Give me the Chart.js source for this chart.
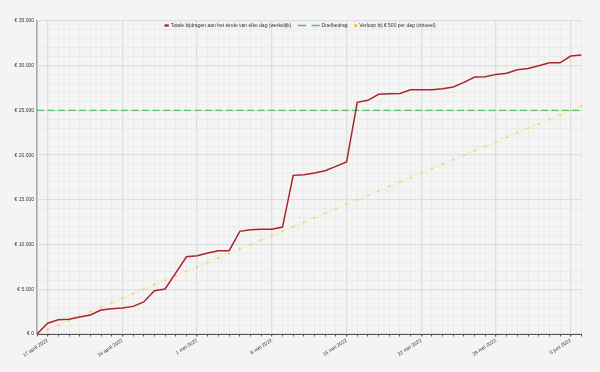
<!DOCTYPE html>
<html>
<head>
<meta charset="utf-8">
<script src="https://cdn.jsdelivr.net/npm/chart.js@4.4.1/dist/chart.umd.min.js"></script>
<style>
  html, body { margin: 0; padding: 0; background: #f4f4f4; }
  canvas { display: block; }
</style>
</head>
<body>
<canvas id="bijdragen_chart" width="600" height="372"></canvas>
<script>
// one category per day, 16 april .. 6 juni 2022
const days = [
  "16 april 2022", "17 april 2022", "18 april 2022", "19 april 2022", "20 april 2022",
  "21 april 2022", "22 april 2022", "23 april 2022", "24 april 2022", "25 april 2022",
  "26 april 2022", "27 april 2022", "28 april 2022", "29 april 2022", "30 april 2022",
  "1 mei 2022", "2 mei 2022", "3 mei 2022", "4 mei 2022", "5 mei 2022", "6 mei 2022",
  "7 mei 2022", "8 mei 2022", "9 mei 2022", "10 mei 2022", "11 mei 2022", "12 mei 2022",
  "13 mei 2022", "14 mei 2022", "15 mei 2022", "16 mei 2022", "17 mei 2022", "18 mei 2022",
  "19 mei 2022", "20 mei 2022", "21 mei 2022", "22 mei 2022", "23 mei 2022", "24 mei 2022",
  "25 mei 2022", "26 mei 2022", "27 mei 2022", "28 mei 2022", "29 mei 2022", "30 mei 2022",
  "31 mei 2022", "1 juni 2022", "2 juni 2022", "3 juni 2022", "4 juni 2022", "5 juni 2022",
  "6 juni 2022"
];

const actual = [
  0, 1200, 1600, 1650, 1900, 2120, 2680, 2830, 2900, 3090,
  3580, 4840, 5030, 6840, 8640, 8750, 9060, 9320, 9320, 11480,
  11660, 11700, 11720, 11960, 17740, 17810, 18000, 18260, 18750, 19230,
  25900, 26130, 26800, 26870, 26900, 27320, 27320, 27320, 27430, 27620,
  28140, 28740, 28770, 29030, 29150, 29550, 29700, 30000, 30330, 30330,
  31080, 31190
];

const virtual = [
  0, 500, 1000, 1500, 2000, 2500, 3000, 3500, 4000, 4500,
  5000, 5500, 6000, 6500, 7000, 7500, 8000, 8500, 9000, 9500,
  10000, 10500, 11000, 11500, 12000, 12500, 13000, 13500, 14000, 14500,
  15000, 15500, 16000, 16500, 17000, 17500, 18000, 18500, 19000, 19500,
  20000, 20500, 21000, 21500, 22000, 22500, 23000, 23500, 24000, 24500,
  25000, 25500
];

const goal_amount = 25000;

const x_tick_labels = [
  "17 april 2022", "24 april 2022", "1 mei 2022", "8 mei 2022",
  "15 mei 2022", "22 mei 2022", "29 mei 2022", "5 juni 2022"
];
const y_tick_labels = [
  "€ 0", "€ 5.000", "€ 10.000", "€ 15.000", "€ 20.000", "€ 25.000", "€ 30.000", "€ 35.000"
];

const legend_labels = [
  "Totale bijdragen aan het einde van elke dag (werkelijk)",
  "Doelbedrag",
  "Verloop bij € 500 per dag (virtueel)"
];

const RED = "#a8262b";
const GREEN = "#5cbf6c";
const YELLOW = "#f3c844";
const FONT = "Liberation Sans, Arial, sans-serif";

// small legend row drawn on top, like the original
const legend_row = {
  id: "legend_row",
  afterDraw(chart) {
    const ctx = chart.ctx;
    ctx.save();
    ctx.font = "5px " + FONT;
    ctx.textBaseline = "middle";
    const icon_w = [4.5, 22, 3.4];
    const gap_icon = 1.8, gap_item = 6.5;
    let total = 0;
    legend_labels.forEach((t, i) => {
      total += icon_w[i] + gap_icon + ctx.measureText(t).width;
      if (i < legend_labels.length - 1) total += gap_item;
    });
    let x = 300 - total / 2;
    const y = 25.5;
    legend_labels.forEach((t, i) => {
      if (i === 0) {
        ctx.fillStyle = RED;
        ctx.fillRect(x, y - 1.1, 4.5, 2.2);
      } else if (i === 1) {
        ctx.strokeStyle = GREEN;
        ctx.lineWidth = 1.4;
        ctx.setLineDash([8.2, 5.6]);
        ctx.beginPath();
        ctx.moveTo(x, y);
        ctx.lineTo(x + 22, y);
        ctx.stroke();
        ctx.setLineDash([]);
      } else {
        ctx.fillStyle = YELLOW;
        ctx.beginPath();
        ctx.arc(x + 1.7, y, 1.7, 0, Math.PI * 2);
        ctx.fill();
      }
      x += icon_w[i] + gap_icon;
      ctx.fillStyle = "#333";
      ctx.fillText(t, x, y + 0.3);
      x += ctx.measureText(t).width + gap_item;
    });
    ctx.restore();
  }
};

const chart_ctx = document.getElementById("bijdragen_chart").getContext("2d");

new Chart(chart_ctx, {
  type: "line",
  data: {
    labels: days,
    datasets: [
      {
        label: legend_labels[0],
        data: actual,
        borderColor: RED,
        borderWidth: 1.5,
        pointRadius: 0,
        tension: 0
      },
      {
        label: legend_labels[1],
        data: [
          { x: days[0], y: goal_amount },
          { x: days[days.length - 1], y: goal_amount }
        ],
        borderColor: GREEN,
        borderWidth: 1.3,
        borderDash: [7, 3.5],
        pointRadius: 0
      },
      {
        label: legend_labels[2],
        data: virtual,
        borderColor: "rgba(248, 222, 150, 0.7)",
        borderWidth: 0.6,
        pointRadius: 1,
        pointBorderWidth: 0,
        pointBackgroundColor: YELLOW,
        tension: 0
      }
    ]
  },
  options: {
    responsive: false,
    devicePixelRatio: 1,
    animation: false,
    layout: { padding: { top: 21, right: 18.6, left: 0, bottom: 0 } },
    plugins: {
      legend: { display: false },
      tooltip: { enabled: false }
    },
    scales: {
      x: {
        type: "category",
        offset: false,
        afterFit(scale) { scale.height = 38; },
        border: { color: "#555", width: 1 },
        grid: {
          color(c) {
            return x_tick_labels.includes(days[c.index]) ? "#dedede" : "#ebebeb";
          },
          lineWidth(c) {
            return x_tick_labels.includes(days[c.index]) ? 1.3 : 1;
          },
          tickColor: "#555",
          tickLength: 2.5
        },
        ticks: {
          autoSkip: false,
          minRotation: 33,
          maxRotation: 33,
          padding: 1,
          color: "#333",
          font: { size: 5, family: FONT },
          callback(value, index) {
            return x_tick_labels.includes(days[index]) ? days[index] : "";
          }
        }
      },
      y: {
        min: 0,
        max: 35000,
        afterFit(scale) { scale.width = 37; },
        border: { color: "#a8a8a8", width: 1.5 },
        grid: {
          drawTicks: false,
          color(c) {
            return c.tick.value % 5000 === 0 ? "#dedede" : "#ebebeb";
          },
          lineWidth(c) {
            return c.tick.value % 5000 === 0 ? 1.3 : 1;
          }
        },
        ticks: {
          stepSize: 1000,
          autoSkip: false,
          padding: 3,
          color: "#333",
          font: { size: 5, family: FONT },
          callback(value) {
            return value % 5000 === 0 ? y_tick_labels[value / 5000] : "";
          }
        }
      }
    }
  },
  plugins: [legend_row]
});
</script>
</body>
</html>
